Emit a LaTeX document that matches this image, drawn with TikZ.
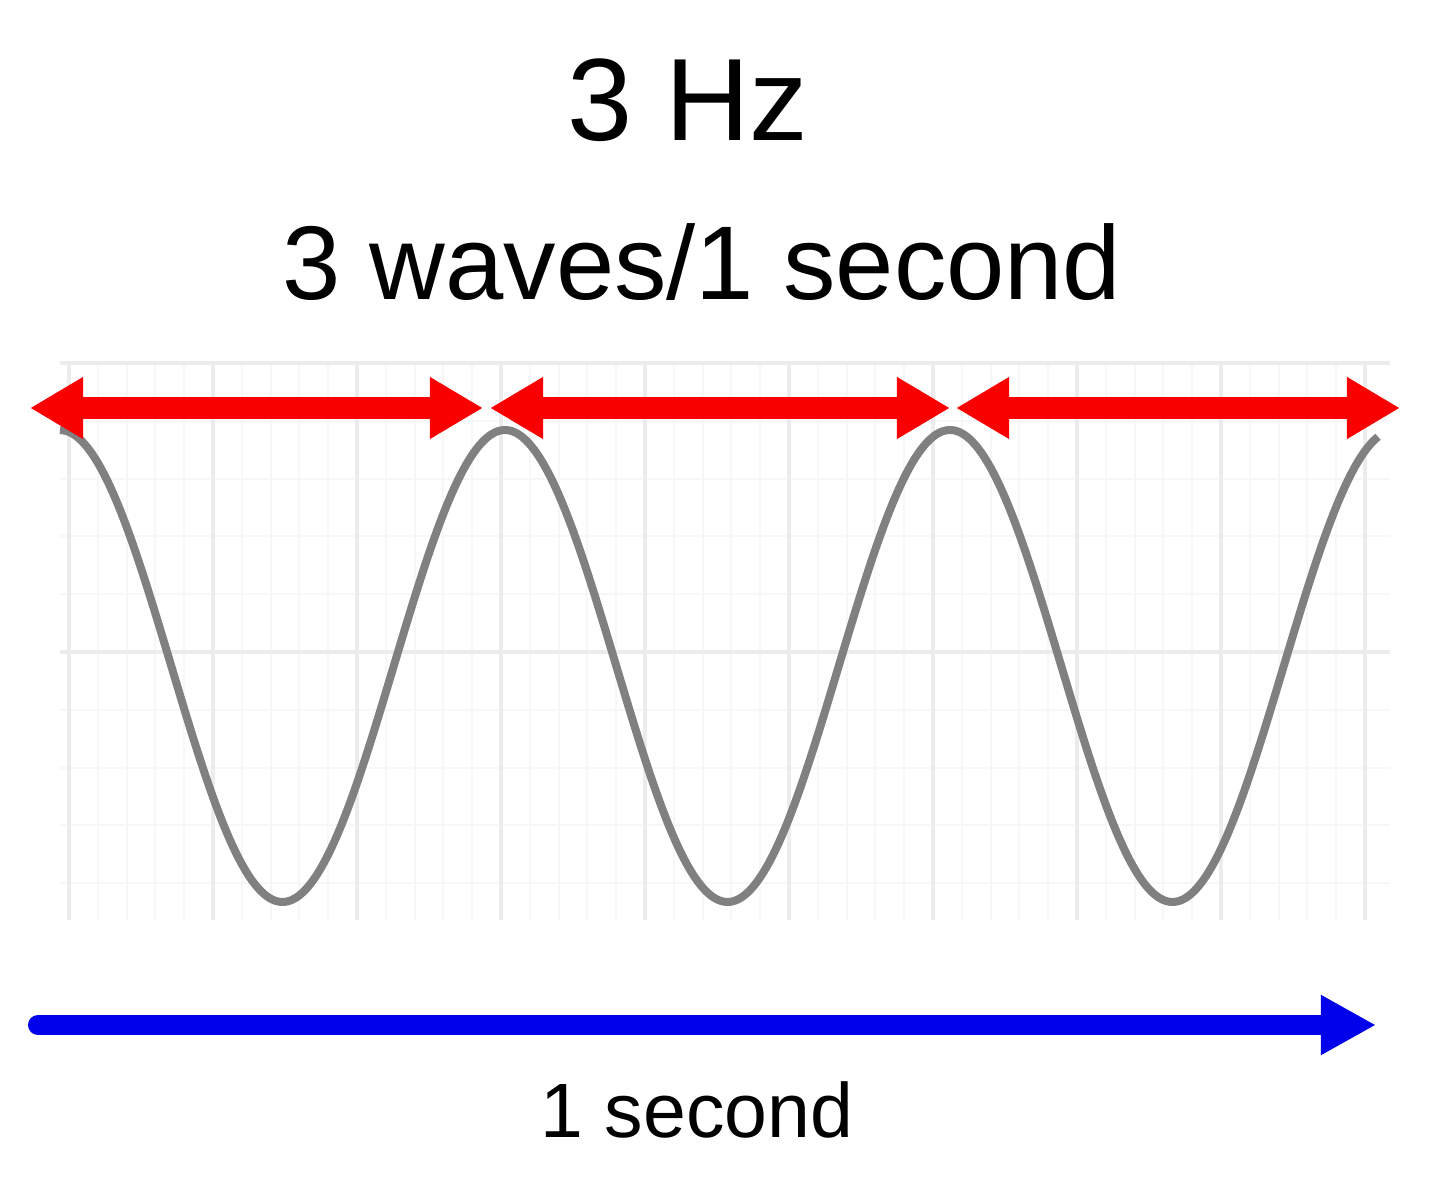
\documentclass[tikz,border=0pt]{standalone}
\usepackage{fontspec}
\setmainfont{Liberation Sans}
\usetikzlibrary{arrows.meta}
\definecolor{gridmajor}{RGB}{236,236,236}
\definecolor{gridminor}{RGB}{247,247,247}
\definecolor{wavegray}{RGB}{128,128,128}
\definecolor{periodred}{RGB}{250,0,0}
\definecolor{timeblue}{RGB}{0,0,235}

\begin{document}
\begin{tikzpicture}[x=0.01cm, y=-0.01cm,
    period/.style={line width=0.22cm, draw=periodred, {Triangle[length=0.53cm, width=0.58cm]}-{Triangle[length=0.53cm, width=0.58cm]}},
    timeline/.style={line width=0.2cm, draw=timeblue, line cap=round, -{Triangle[length=0.55cm, width=0.56cm]}}]
    \useasboundingbox (0,0) rectangle (1440,1189);
    % grid
    \foreach \gx in {0,...,45}
      \draw [gridminor, line width=0.02cm] ({69+28.8*\gx},363) -- ({69+28.8*\gx},920);
    \foreach \gy in {1,2,3,4,6,7,8,9}
      \draw [gridminor, line width=0.02cm] (60,{363+57.8*\gy}) -- (1390,{363+57.8*\gy});
    \foreach \gx in {0,...,9}
      \draw [gridmajor, line width=0.04cm] ({69+144*\gx},363) -- ({69+144*\gx},920);
    \draw [gridmajor, line width=0.04cm] (60,363) -- (1390,363);
    \draw [gridmajor, line width=0.04cm] (60,652) -- (1390,652);
    % wave
    \draw [wavegray, line width=0.08cm, domain=60:1378, samples=240, smooth] plot (\x, {666-236*cos(((\x-60)/445)*360)});
    % period arrows
    \coordinate (p0) at (30,408);
    \coordinate (p1) at (483,408);
    \coordinate (p2) at (490,408);
    \coordinate (p3) at (950,408);
    \coordinate (p4) at (956,408);
    \coordinate (p5) at (1400,408);
    \draw [period] (p0) -- (p1);
    \draw [period] (p2) -- (p3);
    \draw [period] (p4) -- (p5);
    % time axis
    \coordinate (t0) at (38,1025);
    \coordinate (t1) at (1376,1025);
    \draw [timeline] (t0) -- (t1);
    % labels
    \node (freq) at (688,100) {\fontsize{33.3}{40}\selectfont 3 Hz};
    \node (rate) at (702,262) {\fontsize{29.8}{36}\selectfont 3 waves/1 second};
    \node (dur) at (697,1110) {\fontsize{21.9}{26}\selectfont 1 second};
\end{tikzpicture}
\end{document}
